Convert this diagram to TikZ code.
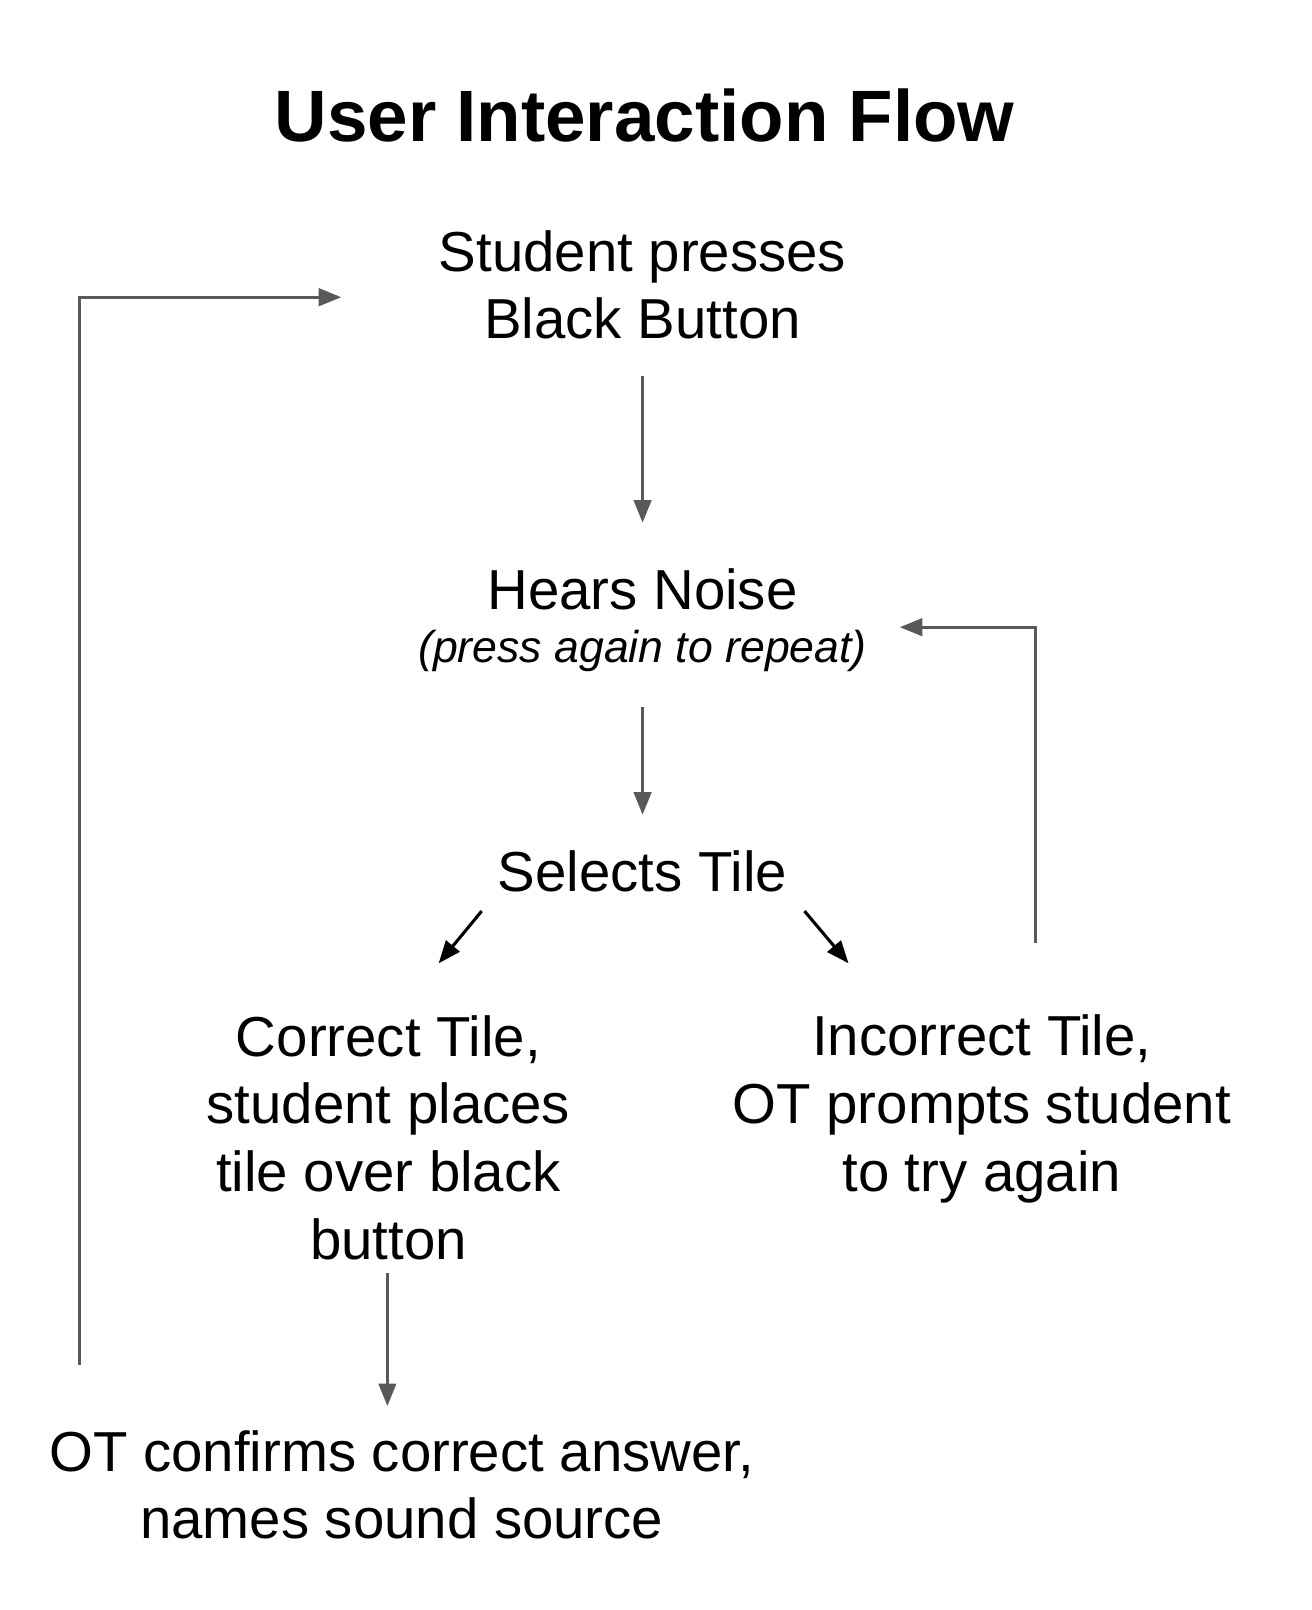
\documentclass[tikz,border=0pt]{standalone}
\usepackage{fontspec}
\setmainfont{Liberation Sans}
\usetikzlibrary{arrows.meta}
\begin{document}
\begin{tikzpicture}[x=1pt,y=-1pt,
  txt/.style={align=center,inner sep=0pt,font=\fontsize{55}{66}\selectfont},
  con/.style={draw=black!65,line width=3pt,-{Triangle[length=22pt,width=17pt]}},
  blk/.style={draw=black,line width=3pt,-{Triangle[length=22pt,width=17pt]}}]
\useasboundingbox (0,0) rectangle (1280,1571);
\node[txt,font=\fontsize{71}{80}\selectfont\bfseries] (title) at (629,113) {User Interaction Flow};
\node[txt] (s) at (627,278) {Student presses\\Black Button};
\node[txt] (h) at (627,575) {Hears Noise};
\node[txt,font=\fontsize{43.5}{48}\selectfont\itshape] (hr) at (627,635) {(press again to repeat)};
\node[txt] (sel) at (627,850) {Selects Tile};
\node[txt] (c) at (379,1110) {Correct Tile,\\student places\\tile over black\\button};
\node[txt] (i) at (958,1082) {Incorrect Tile,\\OT prompts student\\to try again};
\node[txt] (o) at (392,1449) {OT confirms correct answer,\\names sound source};
\coordinate (a1) at (627,367); \coordinate (a2) at (627,510);
\coordinate (b1) at (627,690); \coordinate (b2) at (627,795);
\coordinate (c1) at (470,889); \coordinate (c2) at (428,940);
\coordinate (d1) at (785,889); \coordinate (d2) at (828,940);
\coordinate (e1) at (378,1242); \coordinate (e2) at (378,1372);
\coordinate (l1) at (78,1332); \coordinate (l2) at (333,290);
\coordinate (r1) at (1010,920); \coordinate (r2) at (878,612);
\draw[con] (a1) -- (a2);
\draw[con] (b1) -- (b2);
\draw[blk] (c1) -- (c2);
\draw[blk] (d1) -- (d2);
\draw[con] (e1) -- (e2);
\draw[con] (l1) |- (l2);
\draw[con] (r1) |- (r2);
\end{tikzpicture}
\end{document}
